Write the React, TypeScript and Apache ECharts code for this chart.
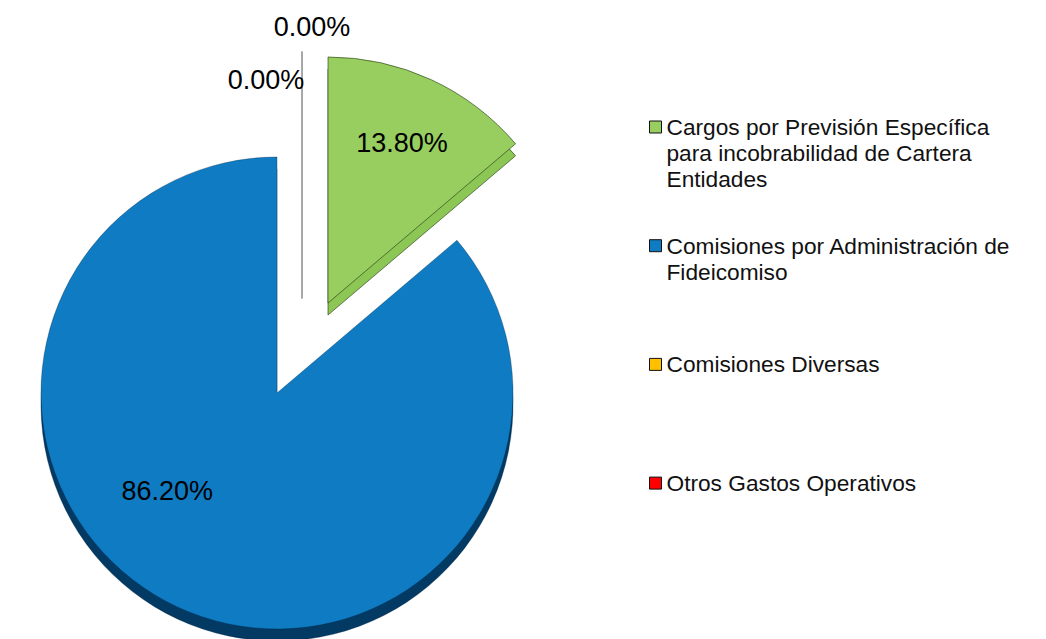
import React, { useEffect, useRef } from 'react';
import * as echarts from 'echarts';

// ---- data ----
const CATEGORIES: string[] = [
  'Cargos por Previsión Específica para incobrabilidad de Cartera Entidades',
  'Comisiones por Administración de Fideicomiso',
  'Comisiones Diversas',
  'Otros Gastos Operativos',
];
const LEGEND_LINES: string[][] = [
  ['Cargos por Previsión Específica', 'para incobrabilidad de Cartera', 'Entidades'],
  ['Comisiones por Administración de', 'Fideicomiso'],
  ['Comisiones Diversas'],
  ['Otros Gastos Operativos'],
];
const SHARES: number[] = [13.8, 86.2, 0, 0]; // percent

// ---- styles / layout ----
const COLORS = ['#97CE5F', '#0E7BC3', '#FFC000', '#FF0000'];
const SIDE_COLORS = ['#8CC655', '#023A63'];
const EDGE_COLORS = ['rgba(40,60,20,0.8)', 'rgba(0,30,60,0.4)'];
const FONT = '"Liberation Sans", Arial, Helvetica, sans-serif';
// per-slice placement of the (exploded) slices: centre and radius
const SLICE_CENTER: number[][] = [[328, 303], [277, 393]];
const SLICE_RADIUS: number[] = [246, 236];
const DEPTH = 12;
const LABEL_SHIFT: number[][] = [[21, -46], [-59, -12]];
const ZERO_CENTER = [302, 298];
const ZERO_RADIUS = 246;
const ZERO_LABEL_SHIFT: number[][] = [[-36, -92], [10, -145]];

const fmt = (v: number) => v.toFixed(2) + '%';

export default function App() {
  const ref = useRef<HTMLDivElement>(null);

  useEffect(() => {
    if (!ref.current) return;
    const chart = echarts.init(ref.current, undefined, { renderer: 'svg' });

    const idx = SHARES.map((_, i) => i);
    const nonZero = idx.filter((i) => SHARES[i] > 0);
    const zero = idx.filter((i) => SHARES[i] === 0);
    const total = SHARES.reduce((a, b) => a + b, 0);

    const labelStyle = {
      show: true,
      position: 'inside',
      color: '#000',
      fontFamily: FONT,
      fontSize: 27,
      formatter: (p: any) => fmt(p.value),
    };

    // one pie layer per visible slice (other slices kept transparent so angles stay right)
    const layer = (k: number, depth: boolean): any => {
      const vis = nonZero[k];
      const c = SLICE_CENTER[k];
      return {
        type: 'pie',
        name: (depth ? 'depth-' : 'face-') + k,
        z: depth ? 1 : 3,
        center: [c[0], c[1] + (depth ? DEPTH : 0)],
        radius: SLICE_RADIUS[k],
        startAngle: 90,
        clockwise: true,
        avoidLabelOverlap: false,
        silent: true,
        data: nonZero.map((i) => {
          const shown = i === vis;
          return {
            name: CATEGORIES[i],
            value: SHARES[i],
            itemStyle: shown
              ? {
                  color: depth ? SIDE_COLORS[k] : COLORS[i],
                  borderColor: EDGE_COLORS[k],
                  borderWidth: 0.8,
                }
              : { color: 'rgba(0,0,0,0)', borderWidth: 0 },
            label: { show: shown && !depth },
          };
        }),
        label: labelStyle,
        labelLine: { show: false },
        labelLayout: () => ({ dx: LABEL_SHIFT[k][0], dy: LABEL_SHIFT[k][1] }),
      };
    };

    const zeroData: any[] = zero.map((i) => ({
      name: CATEGORIES[i],
      value: SHARES[i],
      itemStyle: { color: COLORS[i], borderColor: '#9c9c9c', borderWidth: 1.3 },
    }));
    zeroData.push({
      name: '',
      value: total,
      itemStyle: { color: 'rgba(0,0,0,0)', borderWidth: 0 },
      label: { show: false },
    });

    const faces = nonZero.map((_, k) => layer(k, false));
    const depths = nonZero.map((_, k) => layer(k, true));

    chart.setOption({
      animation: false,
      backgroundColor: '#ffffff',
      legend: {
        orient: 'vertical',
        left: 649,
        top: 62,
        padding: 0,
        itemGap: -11.3,
        itemWidth: 12,
        itemHeight: 12,
        icon: 'rect',
        selectedMode: false,
        data: CATEGORIES.map((name, i) => ({
          name,
          itemStyle: { color: COLORS[i], borderColor: '#111', borderWidth: 1, opacity: 1 },
        })),
        formatter: (name: string) => {
          const lines = LEGEND_LINES[CATEGORIES.indexOf(name)] || [name];
          const after = Math.max(0, 3 - lines.length);
          return ['', '', ...lines, ...new Array(after).fill('')].join('\n');
        },
        textStyle: {
          fontSize: 22.7,
          lineHeight: 26,
          color: '#111',
          fontFamily: FONT,
        },
        itemStyle: { borderColor: '#111', borderWidth: 1 },
      },
      series: [
        ...faces,
        ...depths,
        {
          type: 'pie',
          name: 'zero',
          z: 4,
          center: ZERO_CENTER,
          radius: ZERO_RADIUS,
          startAngle: 90,
          clockwise: true,
          avoidLabelOverlap: false,
          silent: true,
          data: zeroData,
          label: labelStyle,
          labelLine: { show: false },
          labelLayout: (p: any) =>
            ZERO_LABEL_SHIFT[p.dataIndex]
              ? { dx: ZERO_LABEL_SHIFT[p.dataIndex][0], dy: ZERO_LABEL_SHIFT[p.dataIndex][1] }
              : {},
        },
      ],
    });

    return () => chart.dispose();
  }, []);

  return (
    <div
      ref={ref}
      style={{ position: 'fixed', left: 0, top: 0, width: 1046, height: 639, background: '#fff' }}
    />
  );
}
